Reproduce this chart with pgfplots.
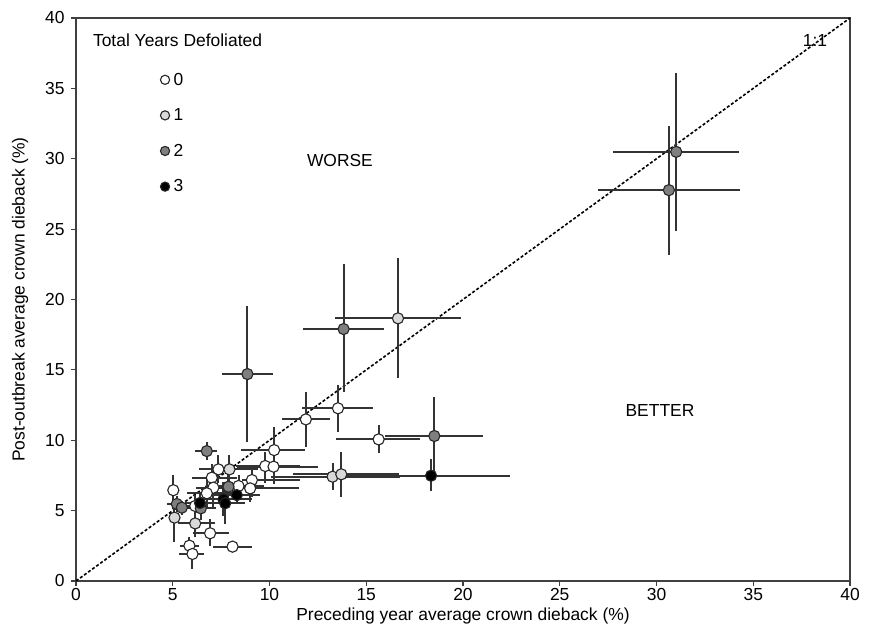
\documentclass[border=0pt]{standalone}
\usepackage{pgfplots}
\pgfplotsset{compat=1.18}
\usepackage{pgfplotstable}
\usepackage{fontspec}
\setmainfont{Liberation Sans}

\pgfplotstableread{
x y xp xm yp ym
5.03 6.45 0.3 0.3 1.1 0.9
6.16 5.33 0.6 0.6 0.8 0.8
6.93 3.39 1.0 0.9 1.0 0.9
5.86 2.51 0.5 0.5 0.6 0.6
6.02 1.92 0.6 0.7 0.6 1.1
8.09 2.44 1.0 1.0 0.4 0.4
7.36 7.93 1.2 1.0 1.0 1.0
7.02 7.34 1.3 1.0 1.0 1.2
7.10 6.63 1.5 0.9 1.2 1.5
6.76 6.23 1.5 1.0 1.0 1.0
8.40 6.75 1.3 1.0 0.8 0.8
9.09 7.17 2.5 0.5 1.0 1.2
9.00 6.58 2.5 1.2 0.8 1.0
9.78 8.17 1.8 1.5 1.0 1.2
10.21 8.12 2.3 1.9 0.7 1.2
10.24 9.30 1.6 1.7 1.66 1.65
11.88 11.48 1.26 1.24 1.92 1.94
13.54 12.27 1.79 1.86 1.65 1.67
15.64 10.06 2.16 2.19 1.02 0.95
}\tzero

\pgfplotstableread{
x y xp xm yp ym
5.09 4.50 0.3 0.3 0.8 1.7
6.16 4.09 1.0 0.9 0.9 1.0
7.93 7.93 1.5 1.2 1.0 1.0
13.26 7.41 3.5 3.2 0.95 0.95
13.71 7.58 3.0 2.5 1.6 1.6
16.64 18.66 3.28 3.28 4.26 4.26
}\tone

\pgfplotstableread{
x y xp xm yp ym
5.21 5.47 0.5 0.5 0.6 0.6
5.47 5.21 0.6 0.5 0.5 0.5
6.45 5.16 0.8 0.8 0.8 0.8
6.76 9.23 0.52 0.6 0.67 0.63
7.88 6.70 1.0 1.0 1.0 1.0
8.86 14.70 1.30 1.31 4.83 4.80
13.83 17.90 2.09 2.10 4.61 4.46
18.52 10.30 2.52 2.54 2.79 2.50
31.02 30.49 3.23 3.25 5.57 5.61
30.64 27.77 3.67 3.67 4.57 4.62
}\ttwo

\pgfplotstableread{
x y xp xm yp ym
6.41 5.54 0.8 0.8 0.8 0.8
7.62 5.80 1.5 1.2 1.2 1.2
7.71 5.52 1.0 1.0 1.5 1.5
8.31 6.10 1.2 1.2 0.6 0.6
18.35 7.48 4.10 4.35 1.18 1.09
}\tthree

\definecolor{lgray}{HTML}{D9D9D9}
\definecolor{mgray}{HTML}{7F7F7F}
\definecolor{ebar}{HTML}{333333}

\pgfplotsset{
  dataset/.style={only marks, mark=*, mark size=5.6bp,
    mark options={fill=#1, draw=black!85, line width=1.1bp},
    error bars/.cd, x dir=both, x explicit, y dir=both, y explicit,
    error mark=none, error bar style={line width=2bp, color=ebar}},
}

\begin{document}
\begin{tikzpicture}
\begin{axis}[
  scale only axis,
  width=774bp, height=563bp,
  xmin=0, xmax=40, ymin=0, ymax=40,
  xtick={0,5,...,40}, ytick={0,5,...,40},
  xtick pos=left, ytick pos=left,
  tick align=outside, major tick length=5bp,
  tick style={line width=1.2bp, black!75},
  axis line style={line width=1.8bp, black!75},
  /pgf/number format/assume math mode=true,
  ticklabel style={font=\fontsize{17.5}{20}\selectfont},
  yticklabel style={xshift=-3bp},
  xticklabel style={yshift=1bp},
  label style={font=\fontsize{17.5}{20}\selectfont},
  xlabel={Preceding year average crown dieback (\%)},
  ylabel={Post-outbreak average crown dieback (\%)},
  xlabel style={yshift=0bp},
  ylabel style={yshift=10bp},
  legend style={draw=none, fill=none, at={(rel axis cs:0.105,0.908)}, anchor=north west,
    font=\fontsize{17.5}{20}\selectfont, row sep=20bp, column sep=3bp,
    nodes={inner sep=1bp}},
  legend image code/.code={\draw[#1, mark size=4.6bp] plot coordinates {(0bp,0bp)};},
  legend cell align=left,
  clip=false,
]
\addplot[black, line width=1.6bp, dash pattern=on 3bp off 2bp, forget plot] coordinates {(0,0) (40,40)};

\addplot[dataset=white] table[x=x, y=y, x error plus=xp, x error minus=xm, y error plus=yp, y error minus=ym] {\tzero};
\addlegendentry{0}
\addplot[dataset=lgray] table[x=x, y=y, x error plus=xp, x error minus=xm, y error plus=yp, y error minus=ym] {\tone};
\addlegendentry{1}
\addplot[dataset=mgray] table[x=x, y=y, x error plus=xp, x error minus=xm, y error plus=yp, y error minus=ym] {\ttwo};
\addlegendentry{2}
\addplot[dataset=black] table[x=x, y=y, x error plus=xp, x error minus=xm, y error plus=yp, y error minus=ym] {\tthree};
\addlegendentry{3}

\node[anchor=west, font=\fontsize{17.5}{20}\selectfont] at (axis cs:0.70,38.44) {Total Years Defoliated};
\node[font=\fontsize{17.5}{20}\selectfont] at (axis cs:13.64,29.84) {WORSE};
\node[font=\fontsize{17.5}{20}\selectfont] at (axis cs:30.18,12.08) {BETTER};
\node[font=\fontsize{17.5}{20}\selectfont] at (axis cs:38.19,38.37) {1:1};
\end{axis}
\path (current axis.south west) +(-76bp,-54bp) (current axis.north east) +(24bp,18bp);
\end{tikzpicture}
\end{document}
